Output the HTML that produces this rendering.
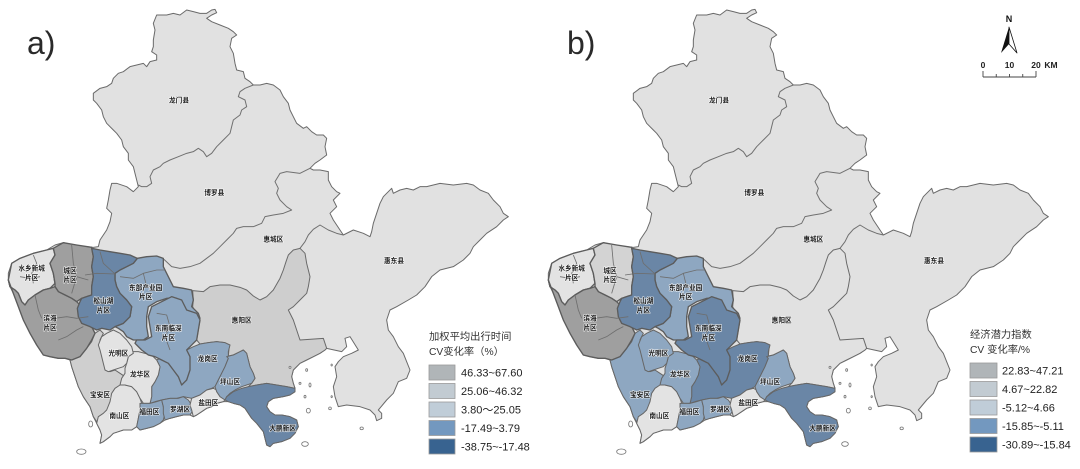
<!DOCTYPE html>
<html>
<head>
<meta charset="utf-8">
<style>
html,body{margin:0;padding:0;background:#fff;}
body{width:1080px;height:469px;position:relative;overflow:hidden;font-family:"Liberation Sans","Noto Sans CJK SC",sans-serif;}
svg{position:absolute;top:0;}
.lbl{font-family:"Liberation Sans","Noto Sans CJK SC",sans-serif;font-size:20px;font-weight:bold;fill:#1c1c1c;text-anchor:middle;dominant-baseline:central;stroke:rgba(255,255,255,0.75);stroke-width:4px;paint-order:stroke;}
</style>
</head>
<body>
<svg id="m0" style="left:0" width="540" height="469" viewBox="0 0 1620 1407">
<defs>
<g id="mp" stroke-linejoin="round">
<!-- base land -->
<polygon style="fill:#e1e1e1;stroke:#6a6a6a;stroke-width:3" points="25,820 35,790 60,775 100,760 140,750 165,735 190,728 210,732 240,738 280,742 295,740 300,720 310,705 320,690 330,665 335,640 320,625 325,600 330,570 335,550 350,550 380,560 400,575 415,560 410,540 405,520 400,500 385,480 385,460 370,440 365,420 350,400 340,390 320,370 310,350 305,330 290,310 280,300 280,280 300,265 320,260 335,250 340,235 355,220 370,215 390,200 410,195 430,190 440,200 450,185 470,180 470,165 455,155 460,140 460,120 465,90 460,70 470,45 500,45 520,40 540,45 560,30 580,35 600,40 620,40 635,30 645,28 650,38 635,45 620,55 635,65 660,75 685,85 700,95 710,105 695,115 690,140 700,160 705,190 710,210 730,215 735,235 750,245 760,255 780,255 800,250 820,255 840,270 850,290 865,310 870,330 880,350 890,370 910,385 920,380 935,395 950,405 970,405 980,415 975,440 980,465 960,480 945,490 930,505 940,510 960,510 985,515 985,540 995,560 1010,575 1020,580 1000,600 1010,620 990,640 1000,660 1020,690 1030,705 1060,690 1090,700 1110,710 1115,695 1120,670 1130,640 1140,610 1150,590 1160,580 1175,565 1180,580 1200,570 1220,565 1240,570 1260,560 1280,560 1320,550 1360,555 1400,550 1420,555 1440,570 1465,580 1480,600 1500,620 1510,640 1525,650 1510,660 1490,680 1460,700 1440,720 1420,740 1410,760 1390,780 1360,800 1320,810 1295,830 1275,860 1250,885 1225,900 1190,920 1170,930 1160,960 1165,990 1180,1010 1195,1040 1210,1060 1220,1085 1230,1110 1220,1135 1195,1145 1180,1180 1160,1200 1135,1230 1145,1240 1145,1255 1130,1262 1125,1245 1110,1230 1080,1220 1040,1215 1015,1220 1005,1190 1000,1160 1010,1130 1005,1100 1015,1085 1030,1070 1055,1060 1075,1050 1050,1010 1035,1015 1040,1040 1025,1055 980,1045 975,1050 960,1060 940,1070 920,1080 900,1090 880,1110 875,1130 880,1150 885,1165 885,1175 870,1185 850,1190 820,1195 805,1205 800,1220 810,1235 825,1245 845,1245 870,1250 890,1260 895,1280 885,1300 870,1315 845,1325 820,1330 810,1340 800,1335 795,1315 790,1295 770,1270 755,1255 745,1240 735,1225 720,1215 700,1210 685,1205 670,1205 650,1210 635,1220 620,1225 605,1235 590,1245 580,1250 570,1245 550,1245 530,1250 510,1255 495,1260 480,1270 460,1280 440,1285 420,1290 410,1280 395,1290 370,1290 355,1295 340,1300 330,1310 310,1325 300,1330 305,1305 300,1290 290,1270 280,1250 270,1220 250,1190 235,1160 225,1130 215,1100 210,1080 195,1075 175,1075 150,1070 130,1065 110,1035 90,1000 70,960 55,920 40,880 30,860 25,840"/>
<!-- north internal lines -->
<g fill="none" stroke="#707070" stroke-width="3">
<polyline points="760,255 735,265 720,275 715,290 735,300 740,320 725,330 720,345 700,360 695,380 690,400 670,420 650,440 635,460 620,470 610,455 595,445 580,455 560,460 535,470 510,480 490,490 480,500 460,510 450,530 455,550 440,560 425,560 415,555"/>
<polyline points="930,505 900,520 860,515 840,520 825,545 835,565 830,580 840,600 860,620 875,630 850,640 820,645 795,650 785,670 760,680 730,680 710,685 700,700 680,720 660,740 640,760 620,775 600,790 570,800 540,805 515,800 492,778"/>
<polyline points="1030,705 1010,700 985,690 960,675 940,688 925,705 915,725 900,745"/>
</g>
<!-- 惠阳 -->
<polygon style="fill:var(--hy);stroke:#6a6a6a;stroke-width:3" points="578,872 610,875 630,860 660,855 690,855 720,862 740,870 760,888 780,900 800,890 820,870 840,835 850,810 858,785 865,765 880,750 900,745 915,760 920,790 930,830 925,860 920,880 900,900 880,920 865,930 880,960 890,990 900,1020 970,1015 980,1045 975,1050 960,1060 940,1070 920,1080 900,1090 880,1110 875,1130 880,1150 885,1165 860,1160 830,1155 800,1150 770,1155 745,1160 755,1150 765,1135 760,1120 750,1100 745,1080 740,1060 730,1050 720,1055 700,1065 685,1068 688,1035 675,1028 650,1025 625,1028 600,1032 590,1020 595,990 600,960 595,945 585,935 578,920 580,900"/>
<g style="stroke:#666;stroke-width:3">
<!-- 宝安 -->
<polygon style="fill:var(--ba)" points="210,1080 240,1070 260,1045 275,1025 285,1000 300,990 310,1000 300,1020 305,1050 310,1080 320,1110 330,1115 345,1110 360,1120 375,1130 385,1140 380,1160 370,1170 360,1180 350,1190 340,1220 330,1240 315,1255 300,1270 290,1265 280,1250 270,1220 250,1190 235,1160 225,1130 215,1100"/>
<!-- 南山 -->
<polygon style="fill:#e3e3e3" points="360,1155 375,1155 395,1160 410,1175 420,1195 425,1210 420,1230 415,1255 410,1280 395,1290 370,1290 355,1295 340,1300 330,1310 310,1325 300,1330 305,1305 300,1290 290,1270 295,1250 310,1240 320,1230 330,1205 335,1180 345,1165"/>
<!-- 龙岗 -->
<polygon style="fill:var(--lg)" points="470,1080 490,1070 510,1060 540,1055 560,1050 580,1040 600,1032 625,1028 650,1025 675,1028 690,1035 685,1055 685,1075 675,1100 665,1120 655,1140 645,1160 635,1165 620,1170 600,1185 575,1195 550,1190 530,1195 510,1195 485,1200 465,1205 450,1210 455,1190 455,1160 465,1145 475,1125 480,1100"/>
<!-- 龙华 -->
<polygon style="fill:var(--lh)" points="385,1070 395,1055 415,1055 435,1060 455,1065 470,1080 480,1100 475,1125 465,1145 455,1160 455,1190 450,1210 430,1210 420,1195 410,1175 395,1160 375,1155 360,1155 365,1135 375,1120 375,1105 380,1090"/>
<!-- 光明 -->
<polygon style="fill:var(--gm)" points="295,1035 305,1010 320,1000 340,990 360,1000 380,1020 395,1040 400,1060 385,1070 380,1090 370,1100 355,1105 340,1110 325,1115 315,1110 310,1090 305,1070 300,1050"/>
<!-- 福田 -->
<polygon style="fill:#8ea7c1" points="420,1210 450,1210 470,1205 485,1200 490,1220 495,1240 490,1260 480,1270 460,1280 440,1285 420,1290 410,1280 415,1255 420,1230"/>
<!-- 罗湖 -->
<polygon style="fill:#8ea7c1" points="485,1200 510,1195 535,1195 550,1190 565,1200 575,1215 580,1230 570,1245 550,1245 530,1250 510,1255 495,1260 490,1240 490,1220"/>
<!-- 盐田 -->
<polygon style="fill:#e3e3e3" points="575,1195 600,1185 620,1170 640,1165 660,1175 675,1185 680,1195 670,1205 650,1210 635,1220 620,1225 605,1235 590,1245 580,1250 575,1230 570,1215"/>
<!-- 坪山 -->
<polygon style="fill:#8ea7c1" points="680,1070 700,1065 720,1055 730,1050 740,1060 745,1080 750,1100 760,1120 765,1135 755,1150 740,1155 725,1160 705,1170 690,1180 680,1190 675,1200 660,1190 650,1175 645,1160 655,1140 665,1120 675,1100 685,1075"/>
<!-- 大鹏 -->
<polygon style="fill:#6a86a6" points="675,1200 680,1190 700,1175 725,1165 745,1160 770,1155 800,1150 830,1155 860,1160 885,1165 885,1175 870,1185 850,1190 820,1195 805,1205 800,1220 810,1235 825,1245 845,1245 870,1250 890,1260 895,1280 885,1300 870,1315 845,1325 820,1330 810,1340 800,1335 795,1315 790,1295 770,1270 755,1255 745,1240 735,1225 720,1215 700,1210 685,1205"/>
</g>
<g style="stroke:#5c5c5c;stroke-width:4">
<!-- 水乡 -->
<polygon style="fill:#e3e3e3" points="25,840 35,790 60,775 100,760 140,750 160,745 165,765 150,790 160,820 165,850 150,865 130,870 105,885 85,900 75,915 65,905 55,880 45,870 30,860"/>
<!-- 城区 -->
<polygon style="fill:var(--cq)" points="160,745 190,728 230,735 275,742 280,770 275,800 280,830 275,860 275,885 260,890 245,895 230,905 215,895 195,885 175,875 165,860 165,850 160,820 150,790 165,765"/>
<!-- 滨海 -->
<polygon style="fill:#9f9f9f" points="25,840 30,860 45,870 55,880 65,905 75,915 85,900 105,885 130,870 150,865 165,860 175,875 195,885 215,895 230,905 245,920 265,950 275,980 285,1000 275,1020 260,1045 240,1070 215,1080 195,1075 175,1075 150,1070 130,1065 110,1035 90,1000 70,960 55,920 40,880"/>
<!-- 东部产业园 -->
<polygon style="fill:#8ea7c1" points="345,820 360,810 380,800 400,790 412,775 440,770 470,768 490,775 490,800 505,830 520,860 550,865 575,870 580,900 575,920 595,940 600,955 590,960 580,950 560,940 550,935 545,910 530,895 500,895 470,905 445,920 440,950 440,980 445,1010 430,1020 400,1020 380,1010 370,995 355,985 345,980 370,970 390,950 395,920 380,900 360,880 350,860 345,840"/>
<!-- 松山湖 -->
<polygon style="fill:#6a86a6" points="275,745 300,750 330,755 360,760 390,765 412,775 400,790 380,800 360,810 345,820 345,840 350,860 360,880 380,900 395,920 390,950 370,970 345,980 330,990 305,985 290,990 270,980 245,970 235,950 232,925 240,905 245,895 260,890 275,885 275,860 280,830 275,800 280,770"/>
<!-- 东南临深 -->
<polygon style="fill:var(--dn)" points="455,920 485,905 515,890 545,900 560,930 590,940 600,960 595,990 590,1020 570,1040 560,1050 570,1070 570,1110 560,1140 545,1155 535,1130 520,1110 505,1090 485,1080 465,1070 445,1065 425,1050 405,1030 410,1020 435,1020 455,1010 450,980 445,950"/>
</g>
<!-- internal thin lines in DG -->
<g fill="none" stroke="#6e6e6e" stroke-width="2.5">
<polyline points="100,765 110,790 95,820 100,850"/>
<polyline points="60,830 90,835 120,830"/>
<polyline points="215,735 220,790 230,830 215,880"/>
<polyline points="230,830 265,840"/>
<polyline points="105,885 115,930 125,955"/>
<polyline points="165,955 200,950 230,955 265,950"/>
<polyline points="175,1020 200,1010 230,990 250,980"/>
<polyline points="360,830 400,835 430,820 470,810 495,810"/>
<polyline points="430,820 440,860"/>
<polyline points="255,825 290,820 345,822"/>
<polyline points="300,755 310,790 345,822"/>
<polyline points="470,940 500,945 510,980 495,1010 510,1050"/>
</g>
<!-- islands -->
<g fill="#fff" stroke="#777" stroke-width="2.5">
<ellipse cx="272" cy="1272" rx="6" ry="9"/>
<ellipse cx="244" cy="1355" rx="14" ry="8"/>
<ellipse cx="915" cy="1332" rx="10" ry="7"/>
<ellipse cx="925" cy="1232" rx="6" ry="7"/>
<ellipse cx="920" cy="1110" rx="3" ry="4"/>
<ellipse cx="930" cy="1155" rx="3" ry="6"/>
<ellipse cx="900" cy="1150" rx="3" ry="3"/>
<ellipse cx="915" cy="1190" rx="3" ry="4"/>
<ellipse cx="990" cy="1225" rx="4" ry="4"/>
<ellipse cx="995" cy="1190" rx="2" ry="3"/>
<ellipse cx="995" cy="1095" rx="2" ry="3"/>
<ellipse cx="1085" cy="1285" rx="5" ry="4"/>
<ellipse cx="870" cy="1102" rx="3" ry="3"/>
</g>
<!-- labels -->
<text class="lbl" x="537" y="303">龙门县</text>
<text class="lbl" x="643" y="580">博罗县</text>
<text class="lbl" x="820" y="720">惠城区</text>
<text class="lbl" x="1182" y="785">惠东县</text>
<text class="lbl" x="725" y="963">惠阳区</text>
<text class="lbl" x="95" y="807">水乡新城</text>
<text class="lbl" x="95" y="835">片区</text>
<text class="lbl" x="210" y="815">城区</text>
<text class="lbl" x="210" y="842">片区</text>
<text class="lbl" x="150" y="957">滨海</text>
<text class="lbl" x="150" y="985">片区</text>
<text class="lbl" x="310" y="905">松山湖</text>
<text class="lbl" x="310" y="933">片区</text>
<text class="lbl" x="437" y="865">东部产业园</text>
<text class="lbl" x="437" y="893">片区</text>
<text class="lbl" x="505" y="987">东南临深</text>
<text class="lbl" x="505" y="1015">片区</text>
<text class="lbl" x="355" y="1062">光明区</text>
<text class="lbl" x="420" y="1125">龙华区</text>
<text class="lbl" x="300" y="1187">宝安区</text>
<text class="lbl" x="358" y="1250">南山区</text>
<text class="lbl" x="448" y="1237">福田区</text>
<text class="lbl" x="540" y="1230">罗湖区</text>
<text class="lbl" x="625" y="1210">盐田区</text>
<text class="lbl" x="623" y="1078">龙岗区</text>
<text class="lbl" x="690" y="1148">坪山区</text>
<text class="lbl" x="848" y="1287">大鹏新区</text>
</g>
</defs>
<use href="#mp" style="--hy:#cecece;--ba:#cfcfcf;--gm:#e3e3e3;--lh:#e3e3e3;--cq:#9f9f9f;--dn:#8ea7c1;--lg:#8ea7c1"/>
</svg>

<svg id="m1" style="left:540px" width="540" height="469" viewBox="0 0 1620 1407">
<use href="#mp" style="--hy:#e1e1e1;--ba:#8ea7c1;--gm:#8ea7c1;--lh:#8ea7c1;--cq:#d3d3d3;--dn:#6a86a6;--lg:#6a86a6"/>
</svg>

<svg id="ov" style="left:0" width="1080" height="469" viewBox="0 0 1080 469">
<g font-family="Liberation Sans, sans-serif" fill="#2a2a2a">
<text x="27" y="54" font-size="32">a)</text>
<text x="567" y="54" font-size="32">b)</text>
</g>
<!-- legend a -->
<g font-family="Liberation Sans, Noto Sans CJK SC, sans-serif" fill="#333">
<text x="429" y="340" font-size="10.3">加权平均出行时间</text>
<text x="429" y="355" font-size="10.3">CV变化率（%）</text>
</g>
<g stroke="#9a9a9a" stroke-width="0.8">
<rect x="429" y="365" width="26" height="15" fill="#b0b5b8"/>
<rect x="429" y="383.5" width="26" height="15" fill="#c2cbd2"/>
<rect x="429" y="402" width="26" height="15" fill="#c0cdd8"/>
<rect x="429" y="420.5" width="26" height="15" fill="#7398bf"/>
<rect x="429" y="439" width="26" height="15" fill="#386390"/>
</g>
<g font-family="Liberation Sans, Noto Sans CJK SC, sans-serif" font-size="11" fill="#222">
<text x="461" y="376.5">46.33~67.60</text>
<text x="461" y="395">25.06~46.32</text>
<text x="461" y="413.5">3.80～25.05</text>
<text x="461" y="432">-17.49~3.79</text>
<text x="461" y="450.5">-38.75~-17.48</text>
</g>
<!-- legend b -->
<g font-family="Liberation Sans, Noto Sans CJK SC, sans-serif" fill="#333">
<text x="970" y="338" font-size="10.3">经济潜力指数</text>
<text x="970" y="353" font-size="10.3">CV 变化率/%</text>
</g>
<g stroke="#9a9a9a" stroke-width="0.8">
<rect x="970" y="363" width="27" height="15" fill="#b0b5b8"/>
<rect x="970" y="381.5" width="27" height="15" fill="#c2cbd2"/>
<rect x="970" y="400" width="27" height="15" fill="#c0cdd8"/>
<rect x="970" y="418.5" width="27" height="15" fill="#7398bf"/>
<rect x="970" y="437" width="27" height="15" fill="#386390"/>
</g>
<g font-family="Liberation Sans, Noto Sans CJK SC, sans-serif" font-size="11" fill="#222">
<text x="1002" y="374.5">22.83~47.21</text>
<text x="1002" y="393">4.67~22.82</text>
<text x="1002" y="411.5">-5.12~4.66</text>
<text x="1002" y="430">-15.85~-5.11</text>
<text x="1002" y="448.5">-30.89~-15.84</text>
</g>
<!-- north arrow -->
<text x="1009" y="22" font-family="Liberation Sans, sans-serif" font-size="9" font-weight="bold" text-anchor="middle" fill="#111">N</text>
<polygon points="1009,27 1001,53 1009,44" fill="#111"/>
<polygon points="1009,27 1017,53 1009,44" fill="#fff" stroke="#111" stroke-width="0.8" stroke-linejoin="round"/>
<!-- scale bar -->
<g font-family="Liberation Sans, sans-serif" font-size="8.5" font-weight="bold" fill="#222" text-anchor="middle">
<text x="983" y="68">0</text>
<text x="1009.5" y="68">10</text>
<text x="1036" y="68">20</text>
<text x="1051" y="68">KM</text>
</g>
<g stroke="#444" stroke-width="0.9" fill="none">
<line x1="983" y1="77" x2="1036" y2="77"/>
<line x1="983" y1="71" x2="983" y2="77"/>
<line x1="996.25" y1="74" x2="996.25" y2="77"/>
<line x1="1009.5" y1="74" x2="1009.5" y2="77"/>
<line x1="1022.75" y1="74" x2="1022.75" y2="77"/>
<line x1="1036" y1="71" x2="1036" y2="77"/>
</g>
</svg>
</body>
</html>
